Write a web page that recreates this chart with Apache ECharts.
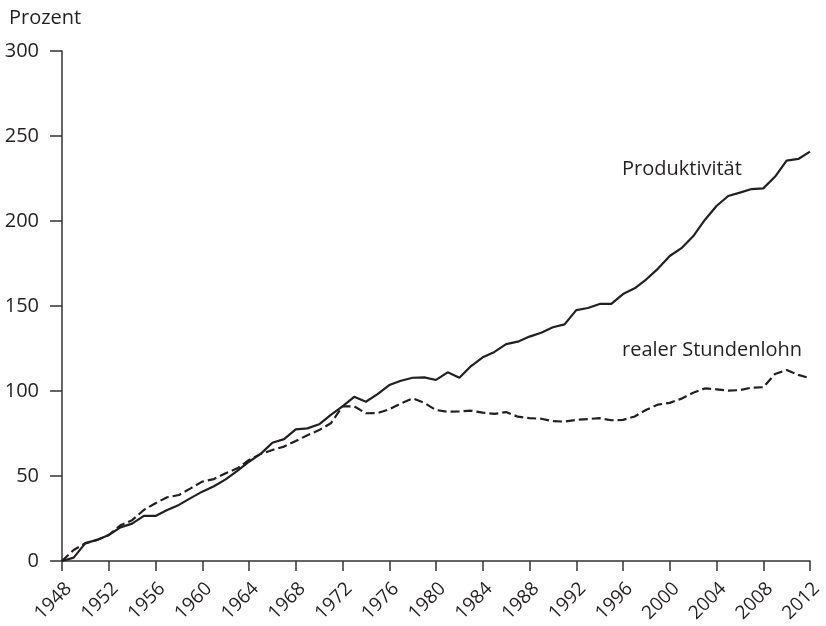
<!DOCTYPE html>
<html>
<head>
<meta charset="utf-8">
<script src="https://cdn.jsdelivr.net/npm/echarts@6/dist/echarts.min.js"></script>
<style>
html,body{margin:0;padding:0;background:#fff;}
#chart{width:826px;height:626px;}
</style>
</head>
<body>
<div id="chart"></div>
<script>
const years = [];
for (let y = 1948; y <= 2012; y++) years.push(y);
const produktivitaet = [0,2,10.5,12.4,15.3,19.8,22,26.5,26.5,30,33,37,40.8,44,48,53,58.4,63,69.6,71.7,77.4,78,80.4,86,91,96.6,93.7,98.2,103.5,106,107.8,108,106.5,111,107.8,114.7,119.8,123,127.6,129,132,134.3,137.5,139.2,147.6,148.8,151.2,151.2,157,160.4,165.7,172,179.4,184,191,200.6,208.8,214.7,216.7,218.8,219.2,226,235.5,236.5,240.8];
const stundenlohn = [0,6.5,10.4,12.4,15.3,21,24,30,34,37.5,38.8,42.7,46.7,48.2,51.6,54.5,59.4,63,65.3,67.3,70.6,74,77,81,91,91,86.9,87,89.2,92.7,95.7,93,88.8,87.8,88,88.4,87.3,86.5,87.6,84.9,84,83.7,82.3,82,83,83.5,84,82.8,83,85,89,92,93,95.5,99,101.5,101,100.2,100.5,102,102.2,110,112.4,109.5,107.5];
const seriesNames = ['Produktivität', 'realer Stundenlohn'];
const yTicks = [0, 50, 100, 150, 200, 250, 300];

const FONT = 'Open Sans';
const INK = '#231f20';
const chart = echarts.init(document.getElementById('chart'));
chart.setOption({
  animation: false,
  backgroundColor: '#fff',
  title: {
    text: 'Prozent', left: 4, top: 3,
    textStyle: {fontFamily: FONT, fontSize: 20, fontWeight: 'normal', color: INK}
  },
  grid: {left: 62, right: 16, top: 51, bottom: 65, containLabel: false},
  xAxis: {
    type: 'value', min: years[0], max: years[years.length - 1], interval: 4,
    splitLine: {show: false},
    axisLine: {lineStyle: {color: '#333', width: 1.5}},
    axisTick: {length: 10, lineStyle: {color: '#333', width: 1.5}},
    axisLabel: {rotate: 45, margin: 18, fontFamily: FONT, fontSize: 19, color: INK,
      verticalAlign: 'top', formatter: v => String(v)}
  },
  yAxis: {
    type: 'value', min: yTicks[0], max: yTicks[yTicks.length - 1], interval: 50,
    splitLine: {show: false},
    axisLine: {show: true, lineStyle: {color: '#333', width: 1.5}},
    axisTick: {show: true, length: 12, lineStyle: {color: '#333', width: 1.5}},
    axisLabel: {margin: 23, fontFamily: FONT, fontSize: 20, color: INK}
  },
  series: [
    {
      name: seriesNames[0], type: 'line', showSymbol: false,
      data: years.map((y, i) => [y, produktivitaet[i]]),
      lineStyle: {color: INK, width: 2.2}
    },
    {
      name: seriesNames[1], type: 'line', showSymbol: false,
      data: years.map((y, i) => [y, stundenlohn[i]]),
      lineStyle: {color: INK, width: 2.2, type: [9, 4]}
    }
  ],
  graphic: [
    {type: 'text', x: 622, y: 169, style: {text: seriesNames[0], font: '20px "Open Sans"', fill: INK, verticalAlign: 'middle'}},
    {type: 'text', x: 622, y: 350, style: {text: seriesNames[1], font: '20px "Open Sans"', fill: INK, verticalAlign: 'middle'}}
  ]
});
</script>
</body>
</html>
